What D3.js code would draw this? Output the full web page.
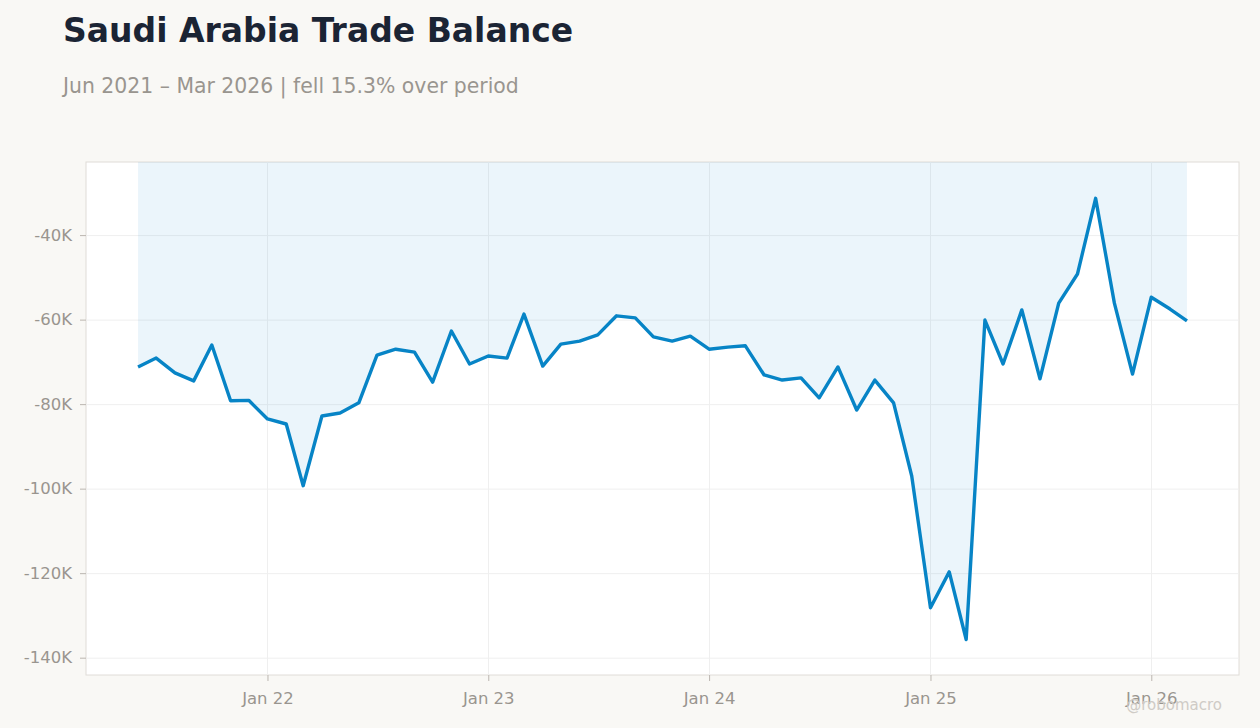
<!DOCTYPE html>
<html><head><meta charset="utf-8">
<script src="https://cdn.jsdelivr.net/npm/d3@7"></script>
<style>
body{margin:0;background:#f9f8f5;font-family:"DejaVu Sans",sans-serif;}
svg{display:block;}
</style></head><body>
<svg id="chart" width="1260" height="728"></svg>
<script>
const months = ["2021-06","2021-07","2021-08","2021-09","2021-10","2021-11","2021-12",
"2022-01","2022-02","2022-03","2022-04","2022-05","2022-06","2022-07","2022-08","2022-09","2022-10","2022-11","2022-12",
"2023-01","2023-02","2023-03","2023-04","2023-05","2023-06","2023-07","2023-08","2023-09","2023-10","2023-11","2023-12",
"2024-01","2024-02","2024-03","2024-04","2024-05","2024-06","2024-07","2024-08","2024-09","2024-10","2024-11","2024-12",
"2025-01","2025-02","2025-03","2025-04","2025-05","2025-06","2025-07","2025-08","2025-09","2025-10","2025-11","2025-12",
"2026-01","2026-02","2026-03"];
const values = [-71.2,-69.1,-72.6,-74.5,-66.0,-79.2,-79.1,
-83.5,-84.7,-99.3,-82.8,-82.1,-79.7,-68.4,-67.0,-67.7,-74.8,-62.7,-70.5,
-68.6,-69.1,-58.7,-71.0,-65.8,-65.1,-63.6,-59.1,-59.6,-64.1,-65.1,-63.9,
-67.0,-66.5,-66.2,-73.1,-74.3,-73.8,-78.5,-71.2,-81.4,-74.3,-79.7,-97.0,
-128.2,-119.7,-135.7,-60.1,-70.5,-57.7,-74.0,-56.1,-49.2,-31.3,-56.1,-72.9,
-54.7,-57.5,-60.3].map(v => v * 1000);
const yTicks = [-40000,-60000,-80000,-100000,-120000,-140000];
const yTickLabels = ["-40K","-60K","-80K","-100K","-120K","-140K"];
const xTickLabels = ["Jan 22","Jan 23","Jan 24","Jan 25","Jan 26"];
const xTickDates = ["2022-01","2023-01","2024-01","2025-01","2026-01"];
const title = "Saudi Arabia Trade Balance";
const subtitle = "Jun 2021 – Mar 2026 | fell 15.3% over period";

const parse = d3.timeParse("%Y-%m");
const data = months.map((m,i)=>({date:parse(m), value:values[i]}));

const svg = d3.select("#chart");
const m = {left:86, right:1239, top:162, bottom:675};

const x0 = data[0].date, x1 = data[data.length-1].date;
const span = x1 - x0;
const x = d3.scaleTime()
  .domain([new Date(+x0 - span*0.0496), new Date(+x1 + span*0.0496)])
  .range([m.left, m.right]);
const y = d3.scaleLinear().domain([-144100, -22700]).range([m.bottom, m.top]);

// titles
svg.append("text").attr("x",63).attr("y",42).attr("font-size",33).attr("font-weight","bold")
  .attr("fill","#1b2434").text(title);
svg.append("text").attr("x",63).attr("y",93).attr("font-size",20.4)
  .attr("fill","#99958f").text(subtitle);

// plot background
svg.append("rect").attr("x",m.left).attr("y",m.top).attr("width",m.right-m.left).attr("height",m.bottom-m.top)
  .attr("fill","#ffffff").attr("stroke","#e0dcd8").attr("stroke-width",1);

const xt = xTickDates.map(parse);
// grid
const g = svg.append("g");
g.selectAll(".hg").data(yTicks).enter().append("line")
  .attr("x1",m.left).attr("x2",m.right).attr("y1",d=>y(d)+0.5).attr("y2",d=>y(d)+0.5)
  .attr("stroke","#efefef").attr("stroke-width",1);
g.selectAll(".vg").data(xt).enter().append("line")
  .attr("y1",m.top).attr("y2",m.bottom).attr("x1",d=>Math.round(x(d))+0.5).attr("x2",d=>Math.round(x(d))+0.5)
  .attr("stroke","#efefef").attr("stroke-width",1);

// area to top
const area = d3.area().x(d=>x(d.date)).y0(m.top).y1(d=>y(d.value));
svg.append("path").datum(data).attr("d",area).attr("fill","#0284c7").attr("fill-opacity",0.08);
const line = d3.line().x(d=>x(d.date)).y(d=>y(d.value));
svg.append("path").datum(data).attr("d",line).attr("fill","none")
  .attr("stroke","#0784c6").attr("stroke-width",3.4).attr("stroke-linejoin","round");

// axes
const yAxis = d3.axisLeft(y).tickValues(yTicks).tickSize(6).tickPadding(8)
  .tickFormat((d,i)=>yTickLabels[i]);
const ya = svg.append("g").attr("transform",`translate(${m.left},0)`).call(yAxis);
ya.select(".domain").remove();
ya.selectAll("line").attr("stroke","#bbb6b0");
ya.selectAll("text").attr("fill","#99958f").attr("font-size",16.5).attr("font-family","DejaVu Sans");

const xAxis = d3.axisBottom(x).tickValues(xt).tickSize(6).tickPadding(11)
  .tickFormat((d,i)=>xTickLabels[i]);
const xa = svg.append("g").attr("transform",`translate(0,${m.bottom})`).call(xAxis);
xa.select(".domain").remove();
xa.selectAll("line").attr("stroke","#bbb6b0");
xa.selectAll("text").attr("fill","#99958f").attr("font-size",16.5).attr("font-family","DejaVu Sans");

svg.append("text").attr("x",1222).attr("y",710).attr("text-anchor","end").attr("font-size",15)
  .attr("fill","#cfcbc6").text("@robomacro");
</script>
</body></html>
